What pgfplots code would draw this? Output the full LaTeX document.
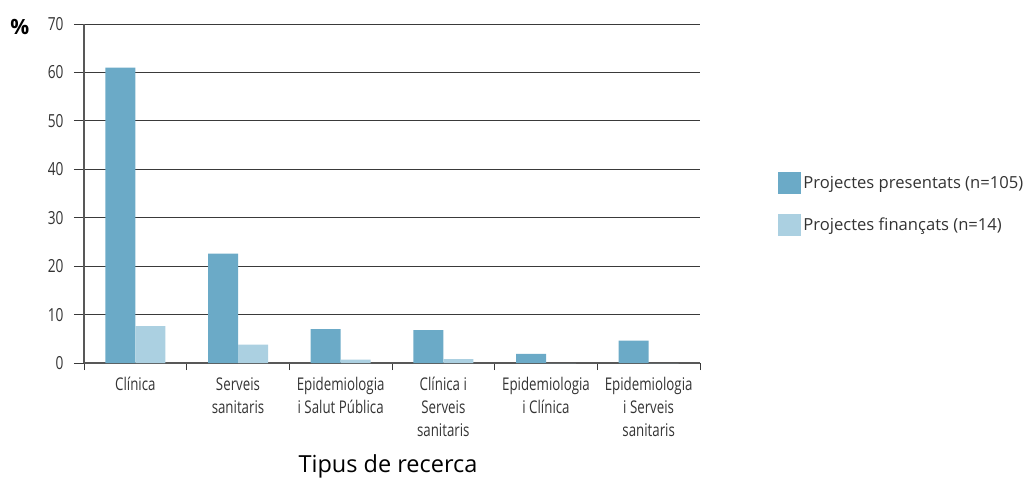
\documentclass[border=0pt]{standalone}
\usepackage{fontspec}
\setmainfont{Open Sans}
\newfontfamily\cond[FakeStretch=0.76]{Open Sans}
\usepackage{pgfplots}
\pgfplotsset{compat=1.18}
\definecolor{pres}{HTML}{6BAAC7}
\definecolor{fin}{HTML}{ABD0E1}
\definecolor{gridc}{HTML}{3A3A3A}
\definecolor{txt}{HTML}{333333}
\begin{document}
\begin{tikzpicture}[x=1pt,y=1pt]
\useasboundingbox (0,0) rectangle (1033,477);
\begin{axis}[
  at={(84pt,114pt)}, anchor=south west,
  scale only axis, width=616pt, height=339pt,
  ybar=0pt, bar width=30pt,
  xmin=-0.5, xmax=5.5, ymin=0, ymax=70,
  ytick={0,10,...,70},
  xtick={0,...,5},
  xticklabels={Clínica, Serveis\\sanitaris, Epidemiologia\\i Salut Pública, Clínica i\\Serveis\\sanitaris, Epidemiologia\\i Clínica, Epidemiologia\\i Serveis\\sanitaris},
  minor xtick={-0.5,0.5,...,5.5},
  major x tick style={draw=none},
  minor x tick style={color=gridc, line width=0.9pt},
  minor tick length=7pt,
  major tick length=10pt,
  tick align=outside,
  ytick style={color=gridc, line width=0.9pt},
  ymajorgrids, grid style={color=gridc, line width=0.9pt},
  axis x line*=bottom, axis y line*=left,
  axis line style={color=gridc!85, line width=1.2pt},
  x axis line style={-}, y axis line style={-},
  /pgf/number format/assume math mode=true,
  yticklabel style={font=\fontsize{18}{20}\selectfont\cond, text=txt, xshift=-7pt},
  xticklabel style={font=\fontsize{17.5}{23}\selectfont\cond, text=txt, align=center, anchor=north, yshift=-1pt},
  xlabel={Tipus de recerca},
  xlabel style={font=\fontsize{23.5}{27}\selectfont, text=black, at={(rel axis cs:0.4935,-0.304)}, anchor=center},
  ylabel={\textbf{\%}},
  ylabel style={font=\fontsize{21}{24}\selectfont, rotate=-90, at={(rel axis cs:-0.104,0.991)}, anchor=center},
  legend style={draw=none, at={(rel axis cs:1.127,0.469)}, anchor=west,
    font=\fontsize{16.6}{19}\selectfont, text=txt, row sep=20pt, inner sep=0pt,
    /tikz/every even column/.append style={column sep=6pt}},
  legend cell align=left,
  legend image code/.code={\fill[#1] (0pt,-11pt) rectangle (23pt,11pt);},
]
\addplot[fill=pres, draw=none] coordinates {(0,61.0) (1,22.6) (2,7.0) (3,6.8) (4,1.9) (5,4.6)};
\addplot[fill=fin, draw=none] coordinates {(0,7.6) (1,3.8) (2,0.7) (3,0.8) (4,0) (5,0)};
\legend{Projectes presentats (n=105), Projectes finançats (n=14)}
\end{axis}
\end{tikzpicture}
\end{document}
